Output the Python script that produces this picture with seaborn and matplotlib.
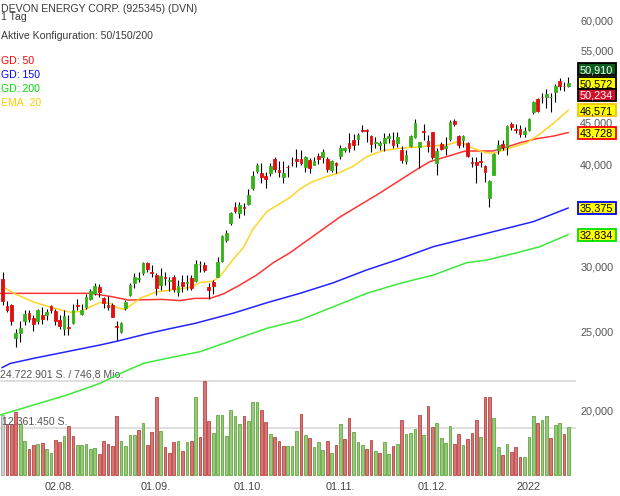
import numpy as np
import pandas as pd
import matplotlib
matplotlib.use("Agg")
import matplotlib.pyplot as plt
from matplotlib.patches import Rectangle
from matplotlib.ticker import NullLocator
import seaborn as sns

# --- daily candles (EUR) ---
opens = [28.99, 26.86, 26.96, 24.55, 24.91, 25.73, 26.34, 25.97, 25.77, 26.21,
         26.17, 26.84, 26.46, 25.80, 25.19, 25.34, 25.60, 26.96, 26.28, 26.78,
         27.36, 27.88, 28.33, 27.44, 26.93, 26.93, 25.39, 24.94, 26.69, 27.69,
         28.62, 29.00, 29.43, 30.31, 29.55, 29.30, 28.49, 29.14, 28.81, 29.17,
         27.96, 28.75, 28.67, 29.03, 28.81, 30.18, 30.14, 28.36, 28.75, 29.17,
         30.50, 32.33, 33.89, 35.50, 34.91, 35.43, 35.82, 37.38, 39.28, 39.00,
         38.67, 39.00, 40.56, 39.36, 38.56, 39.73, 40.18, 40.56, 40.56, 39.73,
         40.48, 39.92, 40.94, 40.86, 40.56, 39.36, 40.18, 40.94, 41.64, 42.50,
         42.82, 42.90, 44.04, 44.04, 43.30, 42.43, 42.23, 42.50, 43.03, 42.82,
         42.43, 41.64, 40.40, 42.11, 43.14, 41.97, 43.92, 42.70, 43.76, 40.18,
         42.31, 41.91, 42.90, 45.17, 43.30, 42.82, 42.50, 40.27, 40.27, 40.34,
         39.80, 36.35, 38.81, 41.69, 42.31, 42.00, 44.78, 44.16, 44.16, 43.51,
         44.04, 46.35, 48.01, 48.38, 48.38, 48.32, 49.04, 50.59, 49.88, 49.83]
highs = [29.55, 27.23, 27.03, 25.19, 25.75, 26.56, 26.56, 26.17, 26.66, 26.78,
         26.66, 26.96, 26.66, 26.17, 26.54, 26.17, 27.03, 27.41, 27.03, 27.80,
         28.20, 28.67, 28.59, 27.56, 27.63, 27.09, 25.75, 25.70, 27.31, 28.62,
         29.47, 29.55, 30.42, 30.43, 30.14, 29.47, 29.89, 29.55, 29.14, 29.30,
         28.89, 29.30, 29.30, 29.30, 30.56, 30.50, 30.42, 28.67, 28.89, 30.80,
         32.78, 33.25, 35.00, 36.00, 36.00, 35.90, 37.28, 39.28, 40.11, 40.18,
         39.17, 40.11, 40.79, 40.34, 40.34, 39.92, 40.79, 41.81, 41.64, 40.94,
         40.67, 40.86, 41.34, 41.74, 40.86, 40.48, 40.30, 42.23, 42.03, 43.72,
         43.55, 43.62, 44.66, 44.13, 43.42, 43.14, 42.74, 43.72, 43.72, 43.83,
         43.83, 42.11, 41.64, 43.42, 45.40, 42.62, 44.78, 43.42, 43.76, 41.84,
         42.62, 43.14, 45.30, 45.40, 43.42, 43.42, 42.62, 40.86, 40.86, 41.45,
         39.92, 38.27, 41.29, 42.82, 42.82, 44.66, 45.04, 44.82, 44.66, 44.41,
         45.52, 47.79, 48.15, 48.84, 49.43, 48.84, 50.07, 50.92, 50.45, 51.08]
lows = [26.93, 26.41, 25.48, 23.93, 24.27, 25.46, 25.67, 25.03, 25.55, 25.55,
        25.80, 26.36, 25.44, 25.19, 24.73, 24.73, 25.55, 26.54, 26.17, 26.66,
        27.29, 27.67, 27.54, 26.71, 26.54, 26.02, 24.41, 24.88, 26.56, 27.61,
        28.25, 28.73, 29.30, 29.55, 29.10, 27.69, 28.09, 28.49, 28.01, 27.93,
        27.61, 27.93, 28.09, 28.09, 28.73, 29.58, 29.58, 27.36, 27.77, 29.17,
        30.42, 32.18, 33.73, 34.85, 34.42, 34.66, 35.67, 37.21, 39.00, 37.92,
        37.38, 38.67, 39.17, 38.63, 37.92, 38.63, 39.80, 39.73, 39.92, 39.17,
        39.00, 39.92, 40.00, 40.11, 39.17, 39.17, 39.00, 40.56, 41.45, 41.45,
        41.64, 42.23, 43.83, 42.62, 41.45, 41.84, 41.64, 41.56, 42.43, 41.91,
        42.00, 40.11, 40.00, 42.03, 43.03, 39.62, 42.82, 41.45, 40.56, 38.80,
        41.64, 41.06, 42.74, 44.53, 41.84, 42.03, 40.86, 39.73, 37.98, 39.73,
        38.08, 35.43, 38.81, 41.17, 41.64, 41.06, 44.04, 43.67, 43.20, 43.20,
        43.92, 46.04, 46.38, 47.49, 46.79, 46.29, 47.68, 49.28, 49.19, 49.75]
closes = [27.21, 26.58, 25.77, 24.91, 25.24, 26.26, 25.92, 25.55, 26.54, 25.92,
          26.41, 26.58, 25.77, 25.39, 26.12, 25.24, 26.54, 26.86, 26.54, 27.54,
          27.99, 28.41, 27.93, 27.06, 26.76, 26.07, 25.34, 25.58, 27.18, 28.49,
          29.17, 29.07, 30.28, 29.80, 29.47, 28.22, 29.22, 29.06, 28.89, 28.14,
          28.41, 28.41, 28.75, 28.22, 30.22, 30.22, 29.72, 28.09, 28.43, 30.42,
          32.69, 33.00, 34.91, 35.07, 35.67, 35.34, 36.70, 38.67, 39.92, 38.63,
          38.34, 39.80, 39.43, 39.17, 39.00, 39.66, 40.11, 40.37, 40.18, 40.79,
          39.55, 40.37, 40.56, 41.45, 39.43, 40.40, 39.92, 41.91, 41.91, 41.91,
          42.23, 43.45, 43.92, 43.92, 42.31, 42.55, 42.43, 43.10, 43.34, 42.23,
          43.14, 40.48, 41.06, 43.30, 44.88, 42.55, 43.83, 42.11, 40.86, 41.56,
          41.75, 42.15, 45.08, 44.75, 42.23, 43.30, 40.98, 40.18, 39.92, 40.25,
          39.17, 38.20, 41.17, 42.23, 42.00, 44.53, 44.44, 44.08, 43.55, 43.95,
          45.40, 47.66, 46.46, 48.27, 48.75, 48.38, 49.83, 49.78, 49.78, 50.23]

# --- volume (Mio. Stueck) and bar colour: n = neutral, g = up, r = down ---
volumes = [15.8, 13.5, 13.5, 16.7, 13.5, 9.0, 6.8, 8.0, 8.2, 8.4,
           6.8, 5.9, 9.3, 8.7, 10.3, 12.8, 10.3, 7.9, 7.9, 8.1,
           6.9, 7.1, 5.6, 8.9, 8.3, 7.7, 15.6, 8.9, 7.7, 10.6,
           10.6, 11.9, 13.6, 8.0, 11.4, 20.6, 11.6, 7.3, 5.9, 8.8,
           9.1, 6.5, 8.8, 9.0, 20.6, 10.1, 24.72, 14.2, 11.0, 15.8,
           15.8, 10.3, 17.1, 15.6, 13.4, 15.6, 14.2, 19.1, 19.1, 17.0,
           13.9, 10.8, 10.1, 8.9, 7.6, 7.6, 7.6, 11.7, 16.1, 10.6,
           9.9, 7.3, 8.6, 6.6, 9.0, 5.8, 7.9, 13.4, 9.5, 15.0,
           11.4, 8.6, 8.0, 7.0, 9.2, 6.4, 5.9, 8.6, 5.6, 7.8,
           8.2, 14.5, 10.9, 11.1, 12.1, 15.9, 10.6, 18.1, 12.6, 13.6,
           9.9, 8.4, 12.9, 8.1, 10.9, 8.0, 9.4, 11.2, 14.6, 10.1,
           20.5, 20.5, 15.1, 7.3, 5.3, 8.1, 6.2, 7.3, 4.8, 4.8,
           10.1, 15.5, 13.7, 14.4, 15.6, 9.7, 13.2, 13.7, 10.8, 12.7]
vol_dir = ("nrrrggrrgr" "ggrrgrrggg" "ggrrrrrggg" "grgrrrgrrr" "grgrgrrrgg"
           "gggggrgggr" "rgrrrgggrg" "rgggrgrgrr" "gggrrgrggr" "grgggrgrrg"
           "gggrrgrrrg" "rrggrgrrrg" "ggrggrggrg")

# --- moving averages, sampled along the drawn lines (x = candle index) ---
ema20_x = [-0.2, 2.4, 7.0, 10.8, 13.8, 15.7, 18.0, 19.9, 22.2, 24.5, 26.4, 27.9,
           29.0, 31.3, 35.1, 39.7, 43.1, 45.0, 48.0, 49.6, 51.1, 52.6, 54.9, 57.1,
           60.2, 63.2, 65.5, 67.8, 70.5, 73.5, 76.5, 80.0, 83.0, 86.8, 90.6, 93.6,
           97.4, 101.3, 103.5, 105.0, 107.3, 110.4, 112.3, 115.3, 119.5, 122.5, 125.6, 129.0]
ema20_y = [28.41, 27.85, 27.16, 26.78, 26.52, 26.37, 26.48, 26.78, 27.12, 27.06, 26.69, 26.61,
           26.86, 27.44, 27.96, 28.14, 28.33, 28.69, 28.81, 29.22, 29.89, 30.65, 31.65, 33.34,
           35.00, 35.82, 36.43, 37.32, 38.06, 38.59, 39.00, 39.80, 40.86, 41.58, 41.84, 41.95,
           42.11, 42.23, 42.58, 42.43, 41.82, 41.29, 41.29, 41.82, 42.47, 43.55, 44.88, 46.57]
gd50_x = [-0.6, 19.9, 21.0, 24.9, 28.6, 36.3, 40.4, 43.9, 47.3, 50.3, 54.1, 57.9, 61.7, 65.5,
          70.1, 76.9, 86.0, 93.6, 97.4, 101.3, 105.0, 105.8, 111.8, 114.2, 118.0, 121.8, 125.6, 129.0]
gd50_y = [27.83, 27.83, 27.78, 27.57, 27.31, 27.36, 27.27, 27.44, 27.44, 27.78, 28.49, 29.30, 30.33, 31.19,
          32.48, 34.49, 36.89, 39.17, 40.30, 40.87, 41.45, 41.52, 41.52, 41.87, 42.50, 42.98, 43.30, 43.73]
gd150_x = [-0.2, 1.7, 7.0, 14.6, 22.2, 26.0, 32.5, 37.4, 43.9, 52.6,
           60.2, 67.8, 75.4, 83.0, 89.8, 98.2, 105.8, 113.4, 121.0, 129.0]
gd150_y = [22.58, 22.85, 23.18, 23.62, 24.07, 24.32, 24.81, 25.15, 25.58, 26.32,
           27.10, 27.83, 28.67, 29.72, 30.56, 31.73, 32.48, 33.25, 34.04, 35.38]
gd200_x = [-0.6, 7.0, 14.6, 22.2, 26.8, 32.1, 37.4, 45.0, 52.6, 60.2,
           67.8, 75.4, 83.0, 90.6, 98.2, 105.8, 110.4, 117.2, 122.5, 129.0]
gd200_y = [19.77, 20.33, 20.91, 21.61, 22.22, 22.86, 23.18, 23.62, 24.41, 25.22,
           25.82, 26.80, 27.83, 28.62, 29.30, 30.33, 30.56, 31.19, 31.73, 32.83]

date_ticks = [13, 35, 56, 77, 98, 120]
date_labels = ["02.08.", "01.09.", "01.10.", "01.11.", "01.12.", "2022"]
# 35 and 50 sit under the value boxes in the original, so they are not shown
price_ticks = [20, 25, 30, 40, 45, 55, 60]

# right-hand value boxes: value, fill, border, text colour
box_vals = [50.910, 50.572, 50.234, 46.571, 43.728, 35.375, 32.834]
box_fill = ["#0b5c1e", "#ffff00", "#d4102a", "#ffff00", "#ffff00", "#ffff00", "#ffff00"]
box_edge = ["#000000", "#000000", "#000000", "#f5c400", "#ff0000", "#0000ff", "#00e000"]
box_text = ["white", "black", "white", "black", "black", "black", "black"]
box_shift = [9.0, -2.3, -11.3, 0, 0, 0, 0]   # px, to keep the top three apart

vol_max = 24.722901

sns.set_style("white")
plt.rcParams["font.family"] = ["Liberation Sans", "DejaVu Sans"]

W, H = 620, 496
fig = plt.figure(figsize=(W / 100, H / 100), dpi=100)
rect = [0, 20 / H, 576 / W, 476 / H]
ax_v = fig.add_axes(rect)
ax = fig.add_axes(rect, sharex=ax_v)
ax.set_zorder(2)
ax.patch.set_visible(False)
ax_v.set_zorder(1)

n = len(closes)
df = pd.DataFrame({"o": opens, "h": highs, "l": lows, "c": closes,
                   "v": volumes, "d": list(vol_dir)})
df["x"] = np.arange(n)

# price axis: log scale, 60 at 20px from top, 355.8 px per ln unit
px_per_ln = 355.8
p_top = 60 * np.exp(20 / px_per_ln)
p_bot = 60 * np.exp(-(476 - 20) / px_per_ln)

# --- volume ---
vol_zero_px, vol_top_px = 475.3, 381.0
k = vol_max / (vol_zero_px - vol_top_px)
fills = {"g": "#98c97a", "r": "#d97474", "n": "#cfcfcf"}
edges = {"g": "#62a842", "r": "#b94646", "n": "#a5a5a5"}
ax_v.bar(df["x"], df["v"], width=0.62, color=df["d"].map(fills),
         edgecolor=df["d"].map(edges), linewidth=0.6, zorder=2)
for lvl in (vol_max, vol_max / 2):
    ax_v.axhline(lvl, color="#d6d6d6", lw=1.1, zorder=1)
ax_v.set_ylim(-(476 - vol_zero_px) * k, vol_zero_px * k)
vt = ax_v.get_yaxis_transform()
ax_v.text(0.0, vol_max + 0.35, "24.722.901 S. / 746,8 Mio.", transform=vt,
          fontsize=7.6, color="#555555", va="bottom", ha="left", zorder=3)
ax_v.text(0.004, vol_max / 2 + 0.35, "12.361.450 S.", transform=vt,
          fontsize=7.6, color="#555555", va="bottom", ha="left", zorder=3)
ax_v.axis("off")

# --- moving averages ---
ma = [(gd200_x, gd200_y, "#3bea3b"), (gd150_x, gd150_y, "#2323ff"),
      (gd50_x, gd50_y, "#ff3434"), (ema20_x, ema20_y, "#ffd526")]
for xs, ys, col in ma:
    sns.lineplot(x=xs, y=ys, ax=ax, color=col, lw=1.1, estimator=None,
                 sort=False, zorder=2)

# --- candles ---
up = df["c"] >= df["o"]
body_col = np.where(up, "#36b21a", "#e01010")
ax.vlines(df["x"], df["l"], df["h"], color="black", lw=0.8, zorder=3)
lo = np.minimum(df["o"], df["c"])
hi = np.maximum(df["o"], df["c"])
ax.bar(df["x"], hi - lo, bottom=lo, width=0.62, color=body_col,
       edgecolor=body_col, linewidth=0.6, zorder=4)

ax.set_yscale("log")
ax.set_ylim(p_bot, p_top)
ax.set_xlim(-2.7 / 4.385, (576 - 2.7) / 4.385)
ax.yaxis.tick_right()
ax.set_yticks(price_ticks)
ax.set_yticklabels([f"{t:.3f}".replace(".", ",") for t in price_ticks])
ax.yaxis.set_minor_locator(NullLocator())
ax.tick_params(axis="y", length=0, pad=3, labelsize=7.8, labelcolor="#555555")
ax.set_xticks(date_ticks)
ax.set_xticklabels(date_labels)
ax.tick_params(axis="x", length=0, pad=4.5, labelsize=7.8, labelcolor="#444444")
ax.set_xlabel("")
ax.set_ylabel("")
for s in ax.spines.values():
    s.set_visible(False)

# --- header texts ---
def ftext(x, y, s, col):
    fig.text(x / W, 1 - y / H, s, color=col, fontsize=7.6, ha="left", va="baseline")

ftext(1, 11.5, "DEVON ENERGY CORP. (925345) (DVN)", "#3a3a3a")
ftext(1, 20.5, "1 Tag", "#3a3a3a")
ftext(1, 39, "Aktive Konfiguration: 50/150/200", "#3a3a3a")
ftext(1, 64.5, "GD: 50", "#ff0000")
ftext(1, 78, "GD: 150", "#0000ff")
ftext(1, 92, "GD: 200", "#00dd00")
ftext(1, 105.5, "EMA: 20", "#ffcc00")

# --- value boxes on the right ---
for v, fc, ec, tc, sh in zip(box_vals, box_fill, box_edge, box_text, box_shift):
    y_px = 20 + px_per_ln * np.log(60 / v) - sh
    yf = 1 - y_px / H
    fig.patches.append(Rectangle(((577.5) / W, yf - 6 / H), 38 / W, 12 / H,
                                 transform=fig.transFigure, facecolor=fc,
                                 edgecolor=ec, lw=1.3, zorder=5))
    fig.text(596.5 / W, yf, f"{v:.3f}".replace(".", ","), color=tc, fontsize=7.8,
             ha="center", va="center_baseline", zorder=6)

fig.savefig("out.png", dpi=100)
